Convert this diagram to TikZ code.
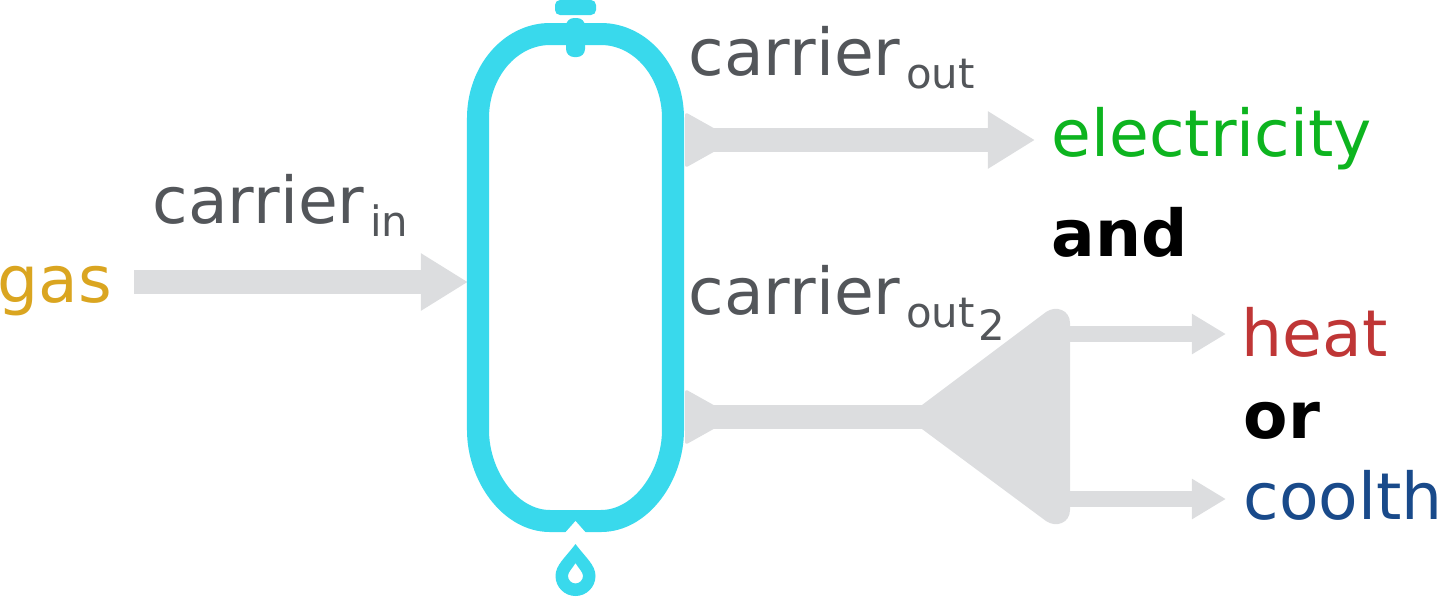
\documentclass[tikz,border=0pt]{standalone}
\usepackage{fontspec}
\setmainfont{DejaVu Sans}
\usetikzlibrary{calc, arrows.meta}

\definecolor{vesselcol}{HTML}{39D9EC}
\definecolor{flowcol}{HTML}{DCDDDF}
\definecolor{labelcol}{HTML}{53565A}
\definecolor{gascol}{HTML}{DAA520}
\definecolor{eleccol}{HTML}{0DB41F}
\definecolor{heatcol}{HTML}{BF3636}
\definecolor{coolcol}{HTML}{194A8A}

\newcommand{\bigtext}{\fontsize{18.4}{22}\selectfont}
\newcommand{\subtext}[1]{\kern1.6pt\raisebox{-3.7pt}{\fontsize{11.9}{14}\selectfont #1}}

\begin{document}
\begin{tikzpicture}[x=0.01cm, y=-0.01cm]
\tikzset{
  flow/.style={draw=flowcol, line width=0.24cm, -{Triangle[length=0.47cm, width=0.54cm, fill=flowcol]}},
  thinflow/.style={draw=flowcol, line width=0.16cm, -{Triangle[length=0.34cm, width=0.38cm, fill=flowcol]}},
  tailfin/.style={fill=flowcol, rounded corners=0.03cm},
  vesselwall/.style={draw=vesselcol, line width=0.22cm},
  word/.style={anchor=base west, inner sep=0pt, font=\bigtext},
  plain/.style={word, text=labelcol}
}
  \useasboundingbox (0,0) rectangle (1438,596);

  \coordinate (inA) at (134,282);
  \coordinate (inB) at (468,282);
  \coordinate (outA) at (700,140);
  \coordinate (outB) at (1035,140);
  \coordinate (twoA) at (700,417);
  \coordinate (twoB) at (940,417);
  \coordinate (heatA) at (1060,334);
  \coordinate (heatB) at (1226,334);
  \coordinate (coolA) at (1060,499);
  \coordinate (coolB) at (1226,499);

  % flows
  \draw[flow] (inA) -- (inB);
  \draw[flow] (outA) -- (outB);
  \draw[draw=flowcol, line width=0.24cm] (twoA) -- (twoB);
  \draw[thinflow] (heatA) -- (heatB);
  \draw[thinflow] (coolA) -- (coolB);

  \fill[tailfin] (685,112) -- (735,140) -- (685,168) -- cycle;
  \fill[tailfin] (685,389) -- (735,417) -- (685,445) -- cycle;
  \fill[flowcol] (922,405) -- (1046,312) .. controls (1056,305) and (1070,310) .. (1070,323)
    -- (1070,510) .. controls (1070,523) and (1056,528) .. (1046,521) -- (922,429) -- cycle;

  % vessel
  \draw[vesselwall] (478,300) -- (478,118) .. controls (478,72) and (510,34) .. (550,34)
    -- (601,34) .. controls (641,34) and (673,72) .. (673,118) -- (673,430)
    .. controls (673,476) and (641,521) .. (601,521) -- (550,521)
    .. controls (510,521) and (478,476) .. (478,430) -- cycle;
  \fill[white] (564,534) -- (575.5,521) -- (587,534) -- cycle;
  \fill[vesselcol, rounded corners=0.05cm] (555,0) rectangle (596,15);
  \fill[vesselcol, rounded corners=0.08cm] (566,18) rectangle (585,57);

  % drop
  \fill[vesselcol, even odd rule] (575.5,544) .. controls (565,558) and (555.5,565) .. (555.5,576)
    .. controls (555.5,587) and (564.5,596) .. (575.5,596) .. controls (586.5,596) and (595.5,587) .. (595.5,576)
    .. controls (595.5,565) and (586,558) .. (575.5,544) -- cycle
    (575.5,563) .. controls (572,569) and (568,572) .. (568,576)
    .. controls (568,580) and (571.5,583.5) .. (575.5,583.5) .. controls (579.5,583.5) and (583,580) .. (583,576)
    .. controls (583,572) and (579,569) .. (575.5,563) -- cycle;

  % labels
  \node[word, text=gascol] (gas) at (-3,302) {gas};
  \node[plain] (cin) at (152,223) {carrier\subtext{in}};
  \node[plain] (cout) at (688,75) {carrier\subtext{out}};
  \node[plain] (cout2) at (688,314) {carrier\subtext{out\kern1pt\raisebox{-3.7pt}{2}}};
  \node[word, text=eleccol] (elec) at (1051,156) {electricity};
  \node[word, font=\bigtext\bfseries] (and) at (1051,256) {and};
  \node[word, text=heatcol] (heat) at (1241,356) {heat};
  \node[word, font=\bigtext\bfseries] (or) at (1243,438) {or};
  \node[word, text=coolcol] (cool) at (1243,519) {coolth};
\end{tikzpicture}
\end{document}
